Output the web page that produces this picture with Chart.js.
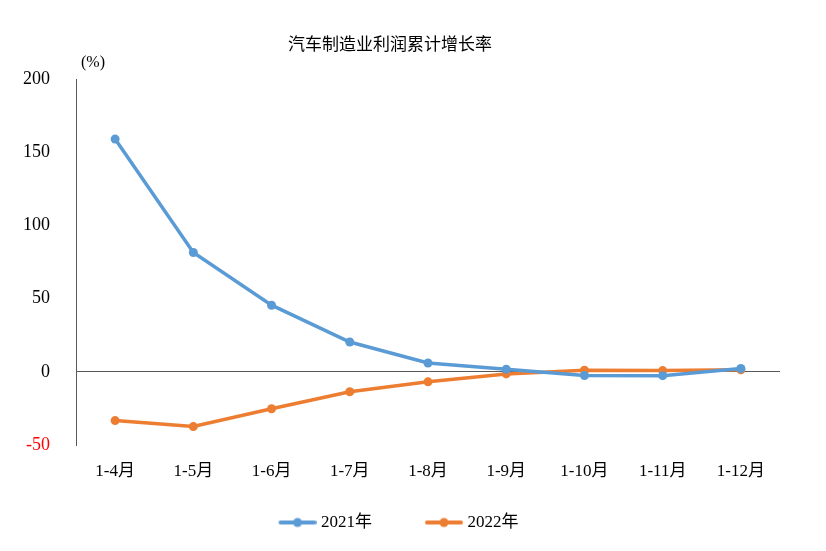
<!DOCTYPE html>
<html>
<head>
<meta charset="utf-8">
<script src="https://cdn.jsdelivr.net/npm/chart.js@4"></script>
<style>
  html, body { margin: 0; padding: 0; background: #fff; }
  #wrap { width: 826px; height: 551px; }
</style>
</head>
<body>
<div id="wrap"><canvas id="profitChart" width="826" height="551"></canvas></div>
<script>
const months = ['1-4月', '1-5月', '1-6月', '1-7月', '1-8月', '1-9月', '1-10月', '1-11月', '1-12月'];
const growth2021 = [159.2, 81.6, 45.6, 20.4, 6.1, 1.8, -2.5, -2.6, 2.3];
const growth2022 = [-33.3, -37.4, -25.2, -13.6, -6.8, -1.4, 1.1, 0.9, 1.4];
const yTicks = [-50, 0, 50, 100, 150, 200];

const BLUE = '#5B9BD5';
const ORANGE = '#ED7D31';
const FONT = "'Liberation Serif', 'Noto Sans CJK SC', serif";
const GAP = 17;          // blank space before each legend line
const BOX_W = GAP + 34;  // legend box width used by Chart.js
const IMG_W = BOX_W + 8; // image overflows 4px each side, so line ends close to text

// legend marker: short line with a dot in the middle
function legendMarker(color) {
  const c = document.createElement('canvas');
  c.width = IMG_W;
  c.height = 12;
  const g = c.getContext('2d');
  const x0 = IMG_W - 38;
  g.strokeStyle = color;
  g.lineWidth = 4;
  g.lineCap = 'round';
  g.beginPath();
  g.moveTo(x0 + 2, 6);
  g.lineTo(x0 + 36, 6);
  g.stroke();
  g.fillStyle = color;
  g.beginPath();
  g.arc(x0 + 19, 6, 4.5, 0, Math.PI * 2);
  g.fill();
  return c;
}

// "(%)" unit label above the y axis
const unitLabel = {
  id: 'unitLabel',
  afterDraw(chart) {
    const ctx = chart.ctx;
    ctx.save();
    ctx.font = '16px ' + FONT;
    ctx.fillStyle = '#000';
    ctx.textAlign = 'center';
    ctx.textBaseline = 'middle';
    ctx.fillText('(%)', 93, 63);
    ctx.restore();
  }
};

new Chart(document.getElementById('profitChart').getContext('2d'), {
  type: 'line',
  data: {
    labels: months,
    datasets: [
      {
        label: '2021年',
        data: growth2021,
        borderColor: BLUE,
        backgroundColor: BLUE,
        borderWidth: 3.5,
        pointRadius: 4.5,
        pointBorderWidth: 0,
        pointStyle: 'circle',
        tension: 0
      },
      {
        label: '2022年',
        data: growth2022,
        borderColor: ORANGE,
        backgroundColor: ORANGE,
        borderWidth: 3.5,
        pointRadius: 4.5,
        pointBorderWidth: 0,
        pointStyle: 'circle',
        tension: 0
      }
    ]
  },
  options: {
    responsive: false,
    animation: false,
    layout: { padding: { top: 0, right: 46, bottom: 10, left: 0 } },
    scales: {
      x: {
        offset: true,
        grid: { display: false },
        border: { display: false },
        ticks: { color: '#000', font: { family: FONT, size: 17 }, padding: 8, maxRotation: 0 },
        afterFit: s => { s.height = 33; }
      },
      y: {
        min: -50,
        max: 200,
        afterBuildTicks: s => { s.ticks = yTicks.map(v => ({ value: v })); },
        grid: {
          drawTicks: false,
          color: ctx => ctx.tick && ctx.tick.value === 0 ? '#595959' : 'rgba(0,0,0,0)',
          lineWidth: 1
        },
        border: { display: true, color: '#595959', width: 1 },
        ticks: {
          color: ctx => ctx.tick.value < 0 ? '#FF0000' : '#000',
          font: { family: FONT, size: 18 },
          padding: 26
        },
        afterFit: s => { s.width = 76; }
      }
    },
    plugins: {
      title: {
        display: true,
        text: '汽车制造业利润累计增长率',
        color: '#000',
        font: { family: FONT, size: 17, weight: 'normal' },
        padding: { top: 35, bottom: 24 }
      },
      legend: {
        position: 'bottom',
        labels: {
          color: '#000',
          font: { family: FONT, size: 17 },
          padding: 36,
          usePointStyle: true,
          pointStyleWidth: BOX_W,
          generateLabels: chart => chart.data.datasets.map((ds, i) => ({
            text: ds.label,
            pointStyle: legendMarker(ds.borderColor),
            fillStyle: ds.borderColor,
            strokeStyle: ds.borderColor,
            lineWidth: 0,
            hidden: false,
            datasetIndex: i,
            fontColor: '#000'
          }))
        }
      },
      tooltip: { enabled: false }
    }
  },
  plugins: [unitLabel]
});
</script>
</body>
</html>
